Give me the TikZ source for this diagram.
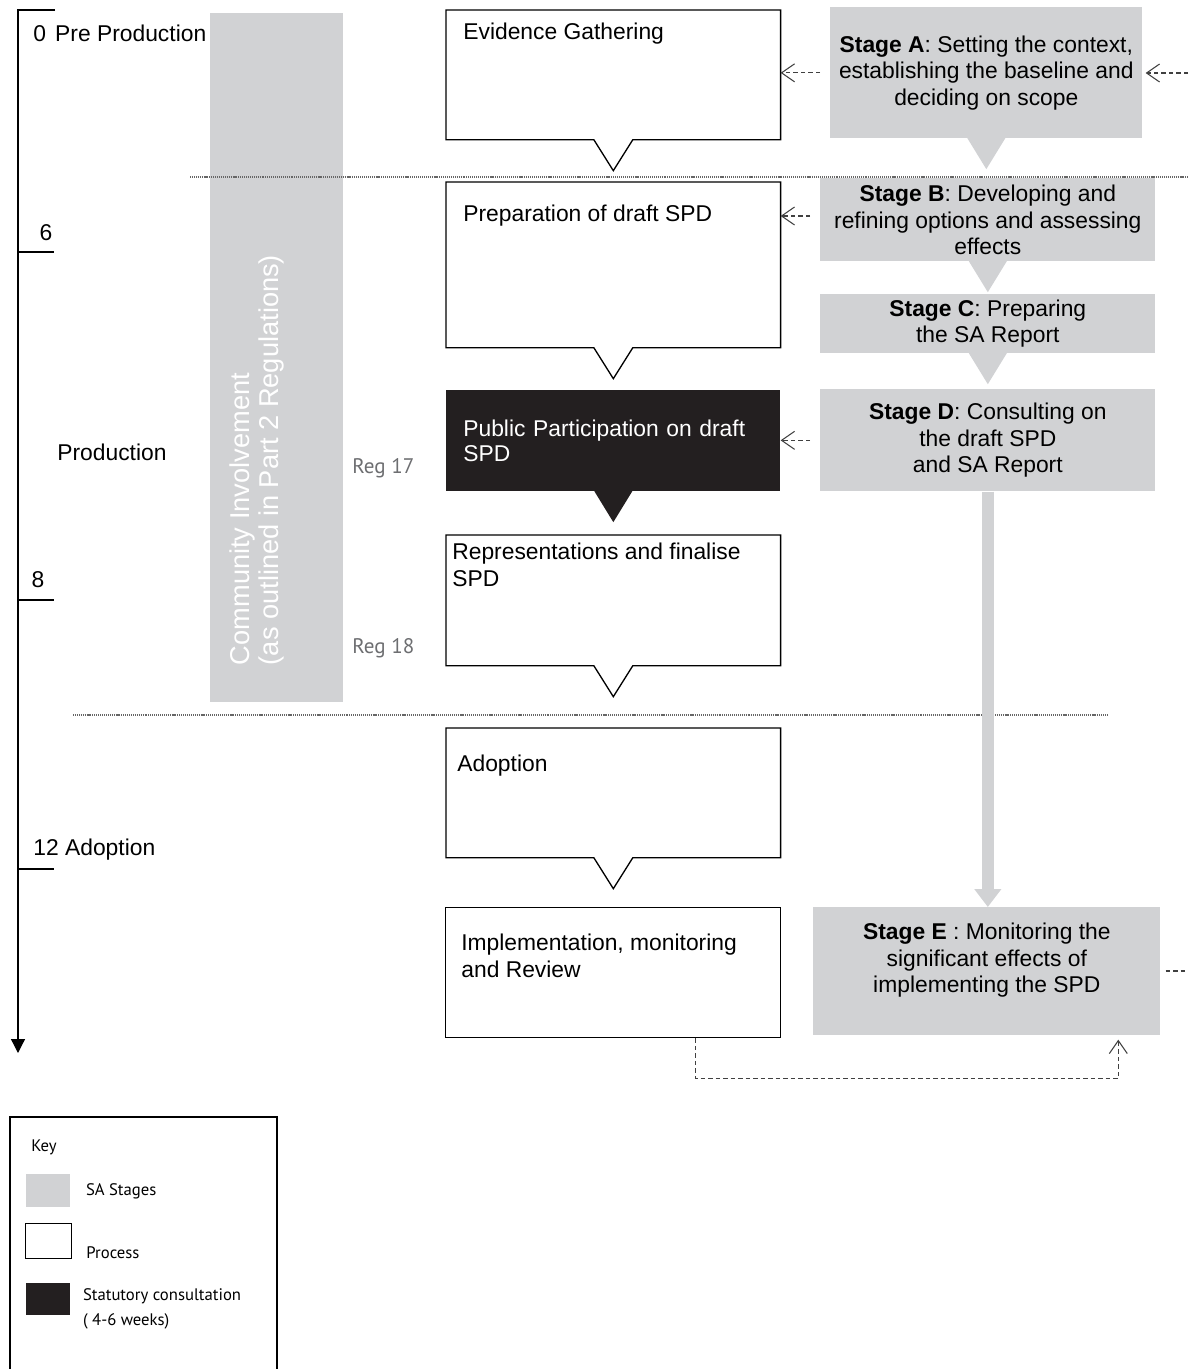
\documentclass[tikz,border=0pt]{standalone}
\usepackage{fontspec}
\setmainfont{Liberation Sans}
\newfontfamily\keyfont{PT Sans}
\usetikzlibrary{positioning,arrows.meta}
\definecolor{stagegray}{HTML}{D1D2D4}
\definecolor{consult}{HTML}{231F20}
\definecolor{reggray}{HTML}{6D6E71}
\tikzset{>={Straight Barb[length=2.6mm,width=3.6mm]}}
% outline of a process box with its pointer
\newcommand{\vbubble}[1]{%
  \draw[line width=0.75pt] (#1.north west) -- (#1.north east) -- (#1.south east)
    -- ([xshift=0.39cm]#1.south) -- ([yshift=-0.62cm]#1.south)
    -- ([xshift=-0.39cm]#1.south) -- (#1.south west) -- cycle;}
% filled pointer under a box
\newcommand{\vtip}[2]{%
  \fill[#2] ([xshift=-0.38cm,yshift=0.01cm]#1.south) -- ([yshift=-0.61cm]#1.south)
    -- ([xshift=0.38cm,yshift=0.01cm]#1.south) -- cycle;}

\begin{document}
\begin{tikzpicture}[x=0.02cm, y=-0.02cm,
    txt/.style={font=\fontsize{13}{15}\selectfont, inner sep=0pt},
    procbox/.style={anchor=north west, minimum width=6.68cm, inner sep=0pt},
    proctext/.style={txt, anchor=north west, align=left},
    stagebox/.style={txt, anchor=north west, fill=stagegray, align=center,
      minimum width=6.70cm},
    keytxt/.style={font=\keyfont\fontsize{9.5}{14.2}\selectfont, inner sep=0pt},
    regtxt/.style={font=\keyfont\fontsize{12}{14}\selectfont, text=reggray, inner sep=0pt},
    feed/.style={draw=black!75, line width=0.6pt, dash pattern=on 0.09cm off 0.06cm},
    phase/.style={draw=black!60, line width=0.8pt, dash pattern=on 0.6pt off 0.5pt}]
  \useasboundingbox (0,0) rectangle (1188,1369);

  % time line
  \coordinate (ttop) at (55,10);
  \coordinate (tcorner) at (18,10);
  \coordinate (tend) at (18,1053);
  \draw[line width=0.7pt, -{Triangle[width=0.28cm,length=0.28cm]}] (ttop) -- (tcorner) -- (tend);
  \foreach \t in {252,600,869}
    \draw[line width=0.7pt] (18,\t) -- (54,\t);
  \node[txt, anchor=west] (m0) at (33,33) {0\hspace{0.4em}Pre Production};
  \node[txt] (m6) at (46,233) {6};
  \node[txt, anchor=west] (prod) at (57,452) {Production};
  \node[txt] (m8) at (38,580) {8};
  \node[txt, anchor=west] (m12) at (33,850) {12 Adoption};

  % community involvement bar
  \node[fill=stagegray, anchor=north west, minimum width=2.66cm, minimum height=13.78cm,
    inner sep=0pt] (ci) at (210,13) {};
  \node[font=\fontsize{15.5}{16.5}\selectfont, text=white, align=left, rotate=90,
    inner sep=0pt] (cit) at (257,460) {Community Involvement\\(as outlined in Part 2 Regulations)};

  \node[regtxt, anchor=west] (r17) at (352,468) {Reg 17};
  \node[regtxt, anchor=west] (r18) at (352,648) {Reg 18};

  % process boxes
  \node[procbox, minimum height=2.58cm] (ev) at (446,10) {};
  \node[procbox, minimum height=3.30cm] (prep) at (446,182) {};
  \node[procbox, minimum height=2.02cm, fill=consult, text=white, text width=6.0cm,
    inner xsep=0.34cm, align=left, font=\fontsize{13}{14.5}\selectfont] (pp) at (446,390)
    {Public Participation on draft\\SPD};
  \node[procbox, minimum height=2.60cm] (rep) at (446,535) {};
  \node[procbox, minimum height=2.58cm] (adopt) at (446,728) {};
  \node[procbox, minimum height=2.60cm, minimum width=6.70cm, draw, line width=0.75pt] (impl) at (445,907) {};
  \vbubble{ev}
  \vbubble{prep}
  \vtip{pp}{consult}
  \vbubble{rep}
  \vbubble{adopt}

  \node[proctext, below right=0.26cm and 0.34cm of ev.north west] (evt) {Evidence Gathering};
  \node[proctext, below right=0.46cm and 0.34cm of prep.north west] (prept) {Preparation of draft SPD};
  \node[proctext, below right=0.16cm and 0.12cm of rep.north west] (rept) {Representations and finalise\\SPD};
  \node[proctext, below right=0.54cm and 0.22cm of adopt.north west] (adoptt) {Adoption};
  \node[proctext, below right=0.54cm and 0.32cm of impl.north west] (implt) {Implementation, monitoring\\and Review};

  % SA stages
  \node[stagebox, minimum width=6.24cm, minimum height=2.62cm] (sa) at (830,7)
    {\textbf{Stage A}: Setting the context,\\establishing the baseline and\\deciding on scope};
  \node[stagebox, minimum height=1.66cm] (sb) at (820,178)
    {\textbf{Stage B}: Developing and\\refining options and assessing\\effects};
  \node[stagebox, minimum height=1.18cm] (sc) at (820,294)
    {\textbf{Stage C}: Preparing\\the SA Report};
  \node[stagebox, minimum height=2.04cm] (sd) at (820,389)
    {\textbf{Stage D}: Consulting on\\the draft SPD\\and SA Report};
  \node[stagebox, minimum width=6.94cm, minimum height=2.56cm] (se) at (813,907) {};
  \node[txt, align=center, below=0.32cm of se.north] (set)
    {\textbf{Stage E} : Monitoring the\\significant effects of\\implementing the SPD};
  \vtip{sa}{stagegray}
  \vtip{sb}{stagegray}
  \vtip{sc}{stagegray}

  % phase dividers
  \coordinate (d1a) at (190,177);
  \coordinate (d1b) at (1188,177);
  \coordinate (d2a) at (73,715);
  \coordinate (d2b) at (1107,715);
  \draw[phase] (d1a) -- (d1b);
  \draw[phase] (d2a) -- (d2b);

  \draw[stagegray, line width=6.8pt, -{Triangle[width=0.52cm,length=0.36cm]}]
    (sd.south) -- (sd.south |- se.north);

  % links between SA and the process
  \coordinate (inA) at (1188,73);
  \coordinate (outE) at (1188,971);
  \draw[feed, ->, shorten <=0.2cm] (sa.west) -- (sa.west -| ev.east);
  \draw[feed, ->, shorten >=0.06cm] (inA) -- (inA -| sa.east);
  \draw[feed, ->, shorten <=0.2cm] (sb.west |- prept) -- (prep.east |- prept);
  \draw[feed, ->, shorten <=0.2cm] (sd.west) -- (sd.west -| pp.east);
  \draw[feed, shorten <=0.1cm] (se.east |- outE) -- (outE);
  \draw[feed, ->, shorten >=0.08cm] ([xshift=1.65cm]impl.south) -- ++(0,40)
    -| ([xshift=2.63cm]se.south);

  % key
  \draw[line width=0.7pt] (10,1369) -- (10,1117) -- (277,1117) -- (277,1369);
  \node[keytxt, anchor=west] (keyt) at (31,1147) {Key};
  \node[fill=stagegray, anchor=north west, minimum width=0.88cm, minimum height=0.66cm,
    inner sep=0pt] (kgray) at (26,1174) {};
  \node[draw, line width=0.6pt, anchor=north west, minimum width=0.92cm, minimum height=0.70cm,
    inner sep=0pt] (kwhite) at (25,1223) {};
  \node[fill=consult, anchor=north west, minimum width=0.88cm, minimum height=0.64cm,
    inner sep=0pt] (kblack) at (26,1283) {};
  \node[keytxt, right=0.3cm of kgray] (kgrayt) {SA Stages};
  \node[keytxt, anchor=south west] (kwhitet) at ([xshift=0.28cm]kwhite.south east) {Process};
  \node[keytxt, anchor=north west, align=left] (kblackt) at ([xshift=0.24cm,yshift=-0.1cm]kblack.north east)
    {Statutory consultation\\( 4-6 weeks)};
\end{tikzpicture}
\end{document}
